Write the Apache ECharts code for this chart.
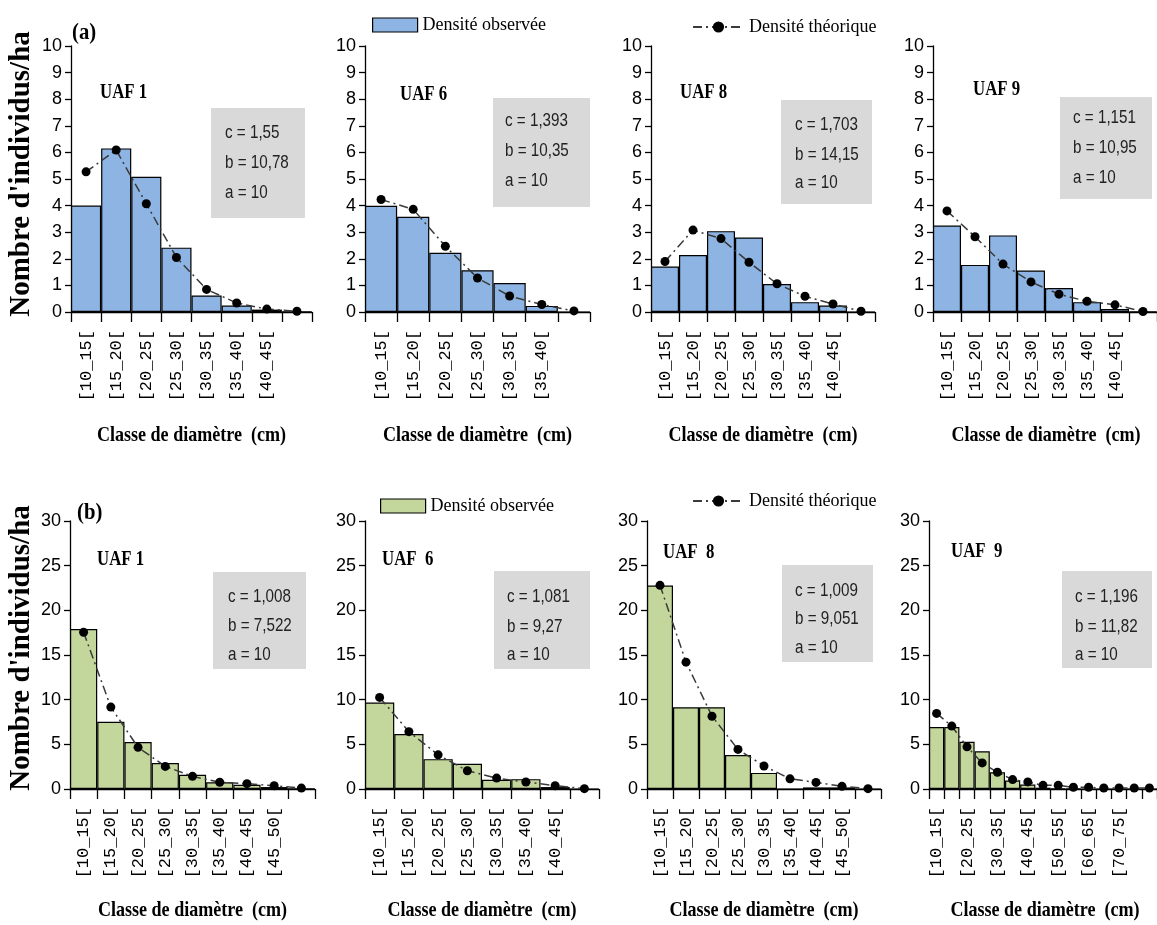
<!DOCTYPE html>
<html>
<head>
<meta charset="utf-8">
<script src="https://cdn.jsdelivr.net/npm/echarts@6/dist/echarts.min.js"></script>
<style>html,body{margin:0;padding:0;background:#fff}#c{width:1157px;height:925px}</style>
</head>
<body>
<div id="c"></div>
<script>
// ---------- DATA ----------
const classesA1 = ['[10_15[','[15_20[','[20_25[','[25_30[','[30_35[','[35_40[','[40_45[','[45_50['];
const classesA6 = ['[10_15[','[15_20[','[20_25[','[25_30[','[30_35[','[35_40[','[40_45['];
const classesA8 = ['[10_15[','[15_20[','[20_25[','[25_30[','[30_35[','[35_40[','[40_45[','[45_50['];
const classesA9 = ['[10_15[','[15_20[','[20_25[','[25_30[','[30_35[','[35_40[','[40_45[','[45_50['];
const classesB1 = ['[10_15[','[15_20[','[20_25[','[25_30[','[30_35[','[35_40[','[40_45[','[45_50[','[50_55['];
const classesB6 = ['[10_15[','[15_20[','[20_25[','[25_30[','[30_35[','[35_40[','[40_45[','[45_50['];
const classesB8 = ['[10_15[','[15_20[','[20_25[','[25_30[','[30_35[','[35_40[','[40_45[','[45_50[','[50_55['];
const classesB9 = ['[10_15[','[15_20[','[20_25[','[25_30[','[30_35[','[35_40[','[40_45[','[45_50[','[50_55[','[55_60[','[60_65[','[65_70[','[70_75[','[75_80[','[80_85['];

const obsA1  = [4.0, 6.15, 5.08, 2.42, 0.62, 0.24, 0.09, 0.02];
const theoA1 = [5.27, 6.09, 4.07, 2.05, 0.85, 0.34, 0.11, 0.03];
const obsA6  = [3.99, 3.58, 2.23, 1.57, 1.09, 0.23, 0];
const theoA6 = [4.23, 3.86, 2.47, 1.28, 0.6, 0.28, 0.04];
const obsA8  = [1.71, 2.14, 3.04, 2.8, 1.05, 0.37, 0.24, 0];
const theoA8 = [1.9, 3.08, 2.76, 1.87, 1.06, 0.59, 0.3, 0.03];
const obsA9  = [3.25, 1.77, 2.88, 1.56, 0.9, 0.37, 0.11, 0.02];
const theoA9 = [3.8, 2.83, 1.8, 1.13, 0.67, 0.4, 0.27, 0.02];
const obsB1  = [17.9, 7.53, 5.26, 2.9, 1.6, 0.75, 0.48, 0.22, 0.05];
const theoB1 = [17.55, 9.17, 4.66, 2.53, 1.42, 0.75, 0.6, 0.37, 0.1];
const obsB6  = [9.69, 6.16, 3.34, 2.82, 1.04, 1.1, 0.22, 0];
const theoB6 = [10.25, 6.42, 3.82, 2.04, 1.22, 0.78, 0.37, 0.04];
const obsB8  = [22.77, 9.15, 9.15, 3.8, 1.8, 0, 0.18, 0.18, 0];
const theoB8 = [22.8, 14.2, 8.15, 4.43, 2.58, 1.14, 0.74, 0.3, 0.04];
const obsB9  = [6.93, 6.93, 5.28, 4.23, 1.87, 0.94, 0.49, 0.15, 0.05, 0.05, 0, 0, 0, 0, 0];
const theoB9 = [8.46, 7.04, 4.72, 2.92, 1.87, 1.05, 0.79, 0.41, 0.41, 0.19, 0.19, 0.11, 0.11, 0.11, 0.11];

const paramsA1 = ['c = 1,55', 'b = 10,78', 'a = 10'];
const paramsA6 = ['c = 1,393', 'b = 10,35', 'a = 10'];
const paramsA8 = ['c = 1,703', 'b = 14,15', 'a = 10'];
const paramsA9 = ['c = 1,151', 'b = 10,95', 'a = 10'];
const paramsB1 = ['c = 1,008', 'b = 7,522', 'a = 10'];
const paramsB6 = ['c = 1,081', 'b = 9,27', 'a = 10'];
const paramsB8 = ['c = 1,009', 'b = 9,051', 'a = 10'];
const paramsB9 = ['c = 1,196', 'b = 11,82', 'a = 10'];

const titles = ['UAF 1', 'UAF 6', 'UAF 8', 'UAF 9', 'UAF 1', 'UAF  6', 'UAF  8', 'UAF  9'];
const yTicksA = {max: 10, interval: 1};
const yTicksB = {max: 30, interval: 5};

const obsName = 'Densité observée';
const theoName = 'Densité théorique';
const xTitle = 'Classe de diamètre  (cm)';
const yTitle = "Nombre d'individus/ha";

// ---------- LAYOUT ----------
const BLUE = '#8db4e2', GREEN = '#c3d69b';
const panels = [
  {cats: classesA1, obs: obsA1, theo: theoA1, params: paramsA1, y: yTicksA, color: BLUE, left: 71, width: 241, top: 46, height: 266, tx: 100, ty: 93, box: [211, 108, 94, 110], bx: 225, by: [133, 163, 193], labInt: 0},
  {cats: classesA6, obs: obsA6, theo: theoA6, params: paramsA6, y: yTicksA, color: BLUE, left: 365, width: 225, top: 46, height: 266, tx: 400, ty: 95, box: [493, 98, 97, 109], bx: 505, by: [121, 151, 181], labInt: 0},
  {cats: classesA8, obs: obsA8, theo: theoA8, params: paramsA8, y: yTicksA, color: BLUE, left: 651, width: 224, top: 46, height: 266, tx: 680, ty: 93, box: [781, 100, 91, 104], bx: 795, by: [125, 155, 183], labInt: 0},
  {cats: classesA9, obs: obsA9, theo: theoA9, params: paramsA9, y: yTicksA, color: BLUE, left: 933, width: 226, top: 46, height: 266, tx: 973, ty: 90, box: [1060, 97, 92, 102], bx: 1073, by: [118, 148, 178], labInt: 0},
  {cats: classesB1, obs: obsB1, theo: theoB1, params: paramsB1, y: yTicksB, color: GREEN, left: 70, width: 245, top: 521, height: 268, tx: 97, ty: 560, box: [213, 572, 93, 97], bx: 228, by: [597, 626, 655], labInt: 0},
  {cats: classesB6, obs: obsB6, theo: theoB6, params: paramsB6, y: yTicksB, color: GREEN, left: 365, width: 234, top: 521, height: 268, tx: 382, ty: 560, box: [494, 571, 96, 98], bx: 507, by: [597, 627, 655], labInt: 0},
  {cats: classesB8, obs: obsB8, theo: theoB8, params: paramsB8, y: yTicksB, color: GREEN, left: 647, width: 234, top: 521, height: 268, tx: 663, ty: 553, box: [782, 565, 91, 97], bx: 795, by: [591, 619, 648], labInt: 0},
  {cats: classesB9, obs: obsB9, theo: theoB9, params: paramsB9, y: yTicksB, color: GREEN, left: 929, width: 232, top: 521, height: 268, tx: 951, ty: 552, box: [1062, 571, 90, 97], bx: 1075, by: [597, 627, 655], labInt: 1}
];

const SANS = "'Liberation Sans', Arial, sans-serif";
const SERIF = "'Liberation Serif', 'Times New Roman', serif";
const MONO = "'Liberation Mono', 'DejaVu Sans Mono', monospace";

const grid = [], xAxis = [], yAxis = [], series = [], graphic = [];
panels.forEach((p, i) => {
  grid.push({left: p.left, top: p.top, width: p.width, height: p.height, containLabel: false});
  const n = p.cats.length;
  xAxis.push({
    type: 'category', gridIndex: i, data: p.cats, boundaryGap: true,
    axisLine: {show: true, lineStyle: {color: '#000', width: 1.3}},
    axisTick: {show: true, length: 10, interval: 0, lineStyle: {color: '#000', width: 1.3}},
    axisLabel: {
      interval: p.labInt, rotate: 90, margin: 18, color: '#000', fontFamily: MONO, fontSize: 17,
      formatter: (v, idx) => (idx === n - 1 ? '' : v)
    }
  });
  yAxis.push({
    type: 'value', gridIndex: i, min: 0, max: p.y.max, interval: p.y.interval,
    axisLine: {show: true, lineStyle: {color: '#000', width: 1.3}},
    axisTick: {show: true, length: 6, lineStyle: {color: '#000', width: 1.3}},
    splitLine: {show: false},
    axisLabel: {margin: 9, color: '#000', fontFamily: SANS, fontSize: 18}
  });
  series.push({
    type: 'bar', name: obsName, xAxisIndex: i, yAxisIndex: i, data: p.obs,
    barCategoryGap: '0%', itemStyle: {color: p.color, borderColor: '#000', borderWidth: 1.2}, z: 2
  });
  series.push({
    type: 'line', name: theoName, xAxisIndex: i, yAxisIndex: i, data: p.theo,
    symbol: 'circle', symbolSize: 9, itemStyle: {color: '#000'},
    lineStyle: {color: '#3a3a3a', width: 1.5, type: [9, 4, 2, 4]}, z: 3
  });
  graphic.push({type: 'text', x: p.tx, y: p.ty, scaleX: 0.8, style: {text: titles[i], x: 0, y: 0, fontFamily: SERIF, fontWeight: 'bold', fontSize: 21, fill: '#000', textVerticalAlign: 'middle'}});
  graphic.push({type: 'text', x: p.left + p.width / 2, y: p.top === 46 ? 436 : 911, scaleX: 0.86, style: {text: xTitle, x: 0, y: 0, fontFamily: SERIF, fontWeight: 'bold', fontSize: 21, fill: '#000', textAlign: 'center', textVerticalAlign: 'middle'}});
  graphic.push({type: 'rect', shape: {x: p.box[0], y: p.box[1], width: p.box[2], height: p.box[3]}, style: {fill: '#d9d9d9'}, z: 1});
  p.params.forEach((t, k) => {
    graphic.push({type: 'text', x: p.bx, y: p.by[k], scaleX: 0.8, z: 2, style: {text: t, x: 0, y: 0, fontFamily: SANS, fontSize: 19, fill: '#222', textVerticalAlign: 'middle'}});
  });
});
graphic.push({type: 'text', x: 72, y: 33, scaleX: 0.9, style: {text: '(a)', x: 0, y: 0, fontFamily: SERIF, fontWeight: 'bold', fontSize: 23, fill: '#000', textVerticalAlign: 'middle'}});
graphic.push({type: 'text', x: 77, y: 513, scaleX: 0.9, style: {text: '(b)', x: 0, y: 0, fontFamily: SERIF, fontWeight: 'bold', fontSize: 23, fill: '#000', textVerticalAlign: 'middle'}});
graphic.push({type: 'text', rotation: Math.PI / 2, x: 22, y: 174, style: {text: yTitle, x: 0, y: 0, fontFamily: SERIF, fontWeight: 'bold', fontSize: 29, fill: '#000', textAlign: 'center', textVerticalAlign: 'middle'}});
graphic.push({type: 'text', rotation: Math.PI / 2, x: 22, y: 648, style: {text: yTitle, x: 0, y: 0, fontFamily: SERIF, fontWeight: 'bold', fontSize: 29, fill: '#000', textAlign: 'center', textVerticalAlign: 'middle'}});

const legendText = {fontFamily: SERIF, fontSize: 18, color: '#000'};
const legend = [
  {data: [{name: obsName, itemStyle: {color: BLUE, borderColor: '#000', borderWidth: 1.2}}], left: 372, top: 16, padding: 0, icon: 'rect', itemWidth: 45, itemHeight: 14, textStyle: legendText, selectedMode: false},
  {data: [theoName], left: 692, top: 18, padding: 0, itemWidth: 51, itemHeight: 14, textStyle: legendText, selectedMode: false},
  {data: [{name: obsName, itemStyle: {color: GREEN, borderColor: '#000', borderWidth: 1.2}}], left: 380, top: 497, padding: 0, icon: 'rect', itemWidth: 45, itemHeight: 14, textStyle: legendText, selectedMode: false},
  {data: [theoName], left: 692, top: 492, padding: 0, itemWidth: 51, itemHeight: 14, textStyle: legendText, selectedMode: false}
];

const chart = echarts.init(document.getElementById('c'));
chart.setOption({
  backgroundColor: '#fff', animation: false,
  grid, xAxis, yAxis, series, graphic, legend
});
</script>
</body>
</html>
